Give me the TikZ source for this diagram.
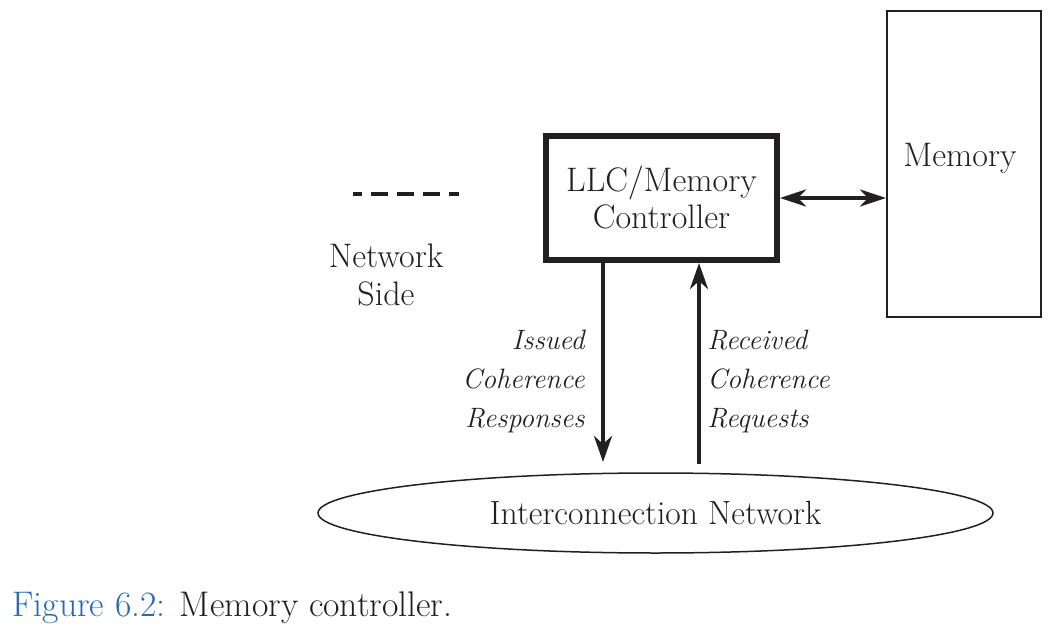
\documentclass[tikz,border=0pt]{standalone}
\usetikzlibrary{shapes.geometric,arrows.meta}
\definecolor{ink}{HTML}{231F20}
\definecolor{capblue}{RGB}{40,105,178}
\begin{document}
\begin{tikzpicture}[x=0.5pt,y=-0.5pt,
  ink/.style={draw=ink,text=ink},
  txt/.style={text=ink,inner sep=0pt,font=\fontsize{17}{19}\selectfont,align=center},
  itxt/.style={text=ink,inner sep=0pt,font=\fontsize{14}{19.5}\selectfont\itshape},
  ctrlbox/.style={draw=ink,line width=3pt,minimum width=115.5pt,minimum height=62pt,inner sep=0pt,text=ink,font=\fontsize{17}{18.5}\selectfont,align=center},
  membox/.style={draw=ink,line width=1pt,minimum width=77pt,minimum height=153pt,inner sep=0pt},
  netell/.style={ellipse,draw=ink,line width=0.75pt,minimum width=337.5pt,minimum height=40pt,inner sep=0pt,text=ink,font=\fontsize{16.8}{19}\selectfont},
  tip/.style={-{Stealth[length=13pt,width=9pt,inset=4pt]}},
  dtip/.style={{Stealth[length=13pt,width=8.5pt,inset=4pt]}-{Stealth[length=13pt,width=8.5pt,inset=4pt]}},
  link/.style={draw=ink,line width=2pt},
  legend/.style={draw=ink,line width=2pt,dash pattern=on 8.5pt off 4.5pt,dash phase=4pt}]
  \useasboundingbox (0,0) rectangle (1052,640);

  % blocks
  \node[ctrlbox] (llc) at (661.5,198) {LLC/Memory\\Controller};
  \node[membox] (mem) at (964,164) {};
  \node[txt] (memtxt) at (960,158) {Memory};
  \node[netell] (net) at (655.5,513) {Interconnection Network};

  % legend
  \coordinate (legA) at (353,194);
  \coordinate (legB) at (459,194);
  \draw[legend] (legA) -- (legB);
  \node[txt] (side) at (386,275) {Network\\Side};

  % links
  \draw[link,dtip] (llc.east) -- (llc.east -| mem.west);
  \coordinate (respEnd) at (603,462);
  \coordinate (reqStart) at (699,464);
  \draw[link,tip] (llc.south -| respEnd) -- (respEnd);
  \draw[link,tip] (reqStart) -- (llc.south -| reqStart);

  % link labels
  \node[itxt,anchor=east,align=right] (resp) at (585,381) {Issued\\Coherence\\Responses};
  \node[itxt,anchor=west,align=left] (req) at (707,381) {Received\\Coherence\\Requests};

  % caption
  \node[anchor=base west,inner sep=0pt,font=\fontsize{17.8}{21}\selectfont] (cap) at (12,616)
    {\textcolor{capblue}{Figure 6.2:} \textcolor{ink}{Memory controller.}};
\end{tikzpicture}
\end{document}
